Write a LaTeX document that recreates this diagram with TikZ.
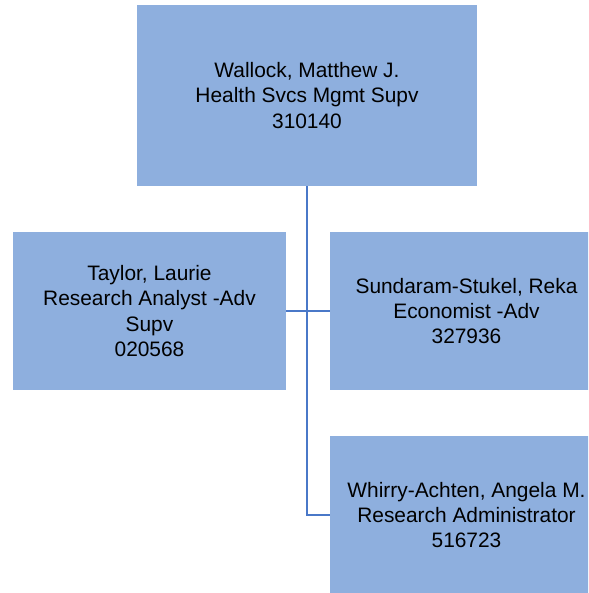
\documentclass[tikz,border=0pt]{standalone}
\usepackage{fontspec}
\setmainfont{Liberation Sans}
\definecolor{boxblue}{HTML}{8EAFDE}
\definecolor{lineblue}{HTML}{4A78C8}
\begin{document}
\begin{tikzpicture}[x=1pt,y=-1pt,
  box/.style={draw=none, fill=boxblue, minimum width=273pt, minimum height=158pt,
    inner sep=0pt, align=center, font=\fontsize{20.9}{25.3}\selectfont},
  link/.style={draw=lineblue, line width=2pt}]
\useasboundingbox (0,0) rectangle (588,593);
\clip (0,0) rectangle (588,593);
\node[box, minimum width=340pt, minimum height=181pt] (top) at (307,95.5)
  {Wallock, Matthew J.\\Health Svcs Mgmt Supv\\310140};
\node[box] (l) at (149.5,311)
  {Taylor, Laurie\\Research Analyst -Adv\\Supv\\020568};
\node[box] (r1) at (466.5,311)
  {Sundaram-Stukel, Reka\\Economist -Adv\\327936};
\node[box] (r2) at (466.5,515)
  {Whirry-Achten, Angela M.\\Research Administrator\\516723};
\draw[link] (top.south) |- (r2.west);
\draw[link] (l.east) -- (r1.west);
\end{tikzpicture}
\end{document}
